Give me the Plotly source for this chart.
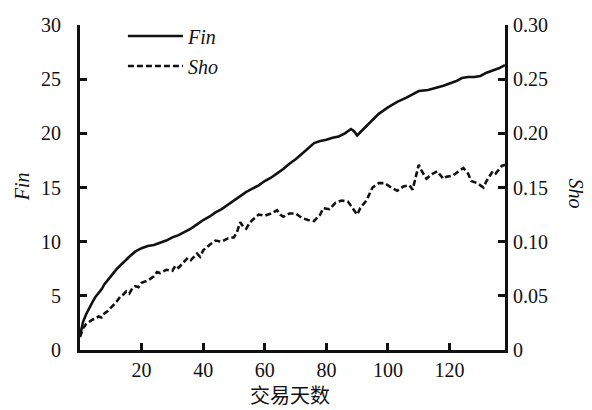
import plotly.graph_objects as go

fin_days = [0, 1, 2, 3, 4, 5, 6, 7, 8, 9, 10, 12, 14, 16, 18, 20, 22, 24, 26, 28, 30, 32, 34, 36, 38,
            40, 42, 44, 46, 48, 50, 52, 54, 56, 58, 60, 62, 64, 66, 68, 70, 72, 74, 76, 78, 80, 82,
            84, 86, 88, 89, 90, 91, 93, 95, 97, 100, 103, 106, 108, 110, 113, 116, 118, 120, 122,
            124, 126, 128, 130, 132, 134, 136, 138]
fin_vals = [1.3, 2.6, 3.3, 3.9, 4.4, 4.9, 5.2, 5.6, 6.1, 6.5, 6.8, 7.5, 8.1, 8.6, 9.1, 9.4, 9.6, 9.7,
            9.9, 10.1, 10.4, 10.6, 10.9, 11.2, 11.6, 12.0, 12.3, 12.7, 13.0, 13.4, 13.8, 14.2, 14.6,
            14.9, 15.2, 15.6, 15.9, 16.3, 16.7, 17.2, 17.6, 18.1, 18.6, 19.1, 19.3, 19.4, 19.6, 19.7,
            20.0, 20.4, 20.2, 19.8, 20.1, 20.7, 21.3, 21.8, 22.4, 22.9, 23.3, 23.6, 23.9, 24.0, 24.2,
            24.4, 24.6, 24.8, 25.1, 25.2, 25.2, 25.3, 25.6, 25.8, 26.0, 26.3]

sho_days = [0, 1, 2, 3, 4, 5, 6, 7, 8, 9, 10, 11, 12, 13, 14, 15, 16, 17, 18, 19, 20, 22, 24, 25, 26,
            28, 30, 31, 32, 34, 35, 36, 38, 39, 40, 42, 44, 46, 48, 50, 51, 52, 53, 54, 55, 56, 58,
            60, 62, 64, 65, 66, 68, 70, 72, 74, 76, 78, 79, 81, 83, 85, 87, 89, 90, 91, 93, 95, 97,
            99, 101, 103, 105, 107, 108, 110, 111, 112.5, 114, 116, 118, 119, 121, 123, 124.5, 126,
            127, 129, 131, 132, 134, 135, 137, 138]
sho_vals = [0.012, 0.020, 0.024, 0.026, 0.028, 0.029, 0.031, 0.030, 0.034, 0.036, 0.039, 0.041, 0.045,
            0.049, 0.051, 0.054, 0.052, 0.057, 0.059, 0.058, 0.062, 0.064, 0.068, 0.072, 0.071, 0.074,
            0.073, 0.078, 0.076, 0.082, 0.085, 0.083, 0.089, 0.086, 0.092, 0.097, 0.101, 0.100, 0.103,
            0.104, 0.109, 0.118, 0.114, 0.112, 0.117, 0.120, 0.125, 0.124, 0.126, 0.129, 0.125, 0.123,
            0.126, 0.126, 0.122, 0.120, 0.119, 0.125, 0.131, 0.130, 0.136, 0.138, 0.137, 0.129, 0.125,
            0.131, 0.138, 0.150, 0.154, 0.154, 0.150, 0.147, 0.151, 0.152, 0.148, 0.171, 0.165, 0.158,
            0.162, 0.165, 0.158, 0.160, 0.161, 0.165, 0.168, 0.163, 0.156, 0.154, 0.150, 0.156, 0.165,
            0.163, 0.170, 0.171]

x_ticks = [20, 40, 60, 80, 100, 120]
fin_ticks = [0, 5, 10, 15, 20, 25, 30]
sho_ticks = [0, 0.05, 0.10, 0.15, 0.20, 0.25, 0.30]
sho_ticktext = ["0", "0.05", "0.10", "0.15", "0.20", "0.25", "0.30"]

FONT = "Liberation Serif"
INK = "#111111"
FS = 20

fig = go.Figure()
fig.add_trace(go.Scatter(x=fin_days, y=fin_vals, mode="lines", name="<i>Fin</i>",
                         legendgroup="a",
                         line=dict(color=INK, width=2.6)))
fig.add_trace(go.Scatter(x=sho_days, y=sho_vals, mode="lines", name="<i>Sho</i>",
                         legendgroup="b", yaxis="y2",
                         line=dict(color=INK, width=2.6, dash="6px,3px")))

tickfont = dict(family=FONT, size=FS, color=INK)
axis_common = dict(showline=True, linewidth=3, linecolor=INK, ticks="inside", ticklen=7,
                   tickwidth=3, tickcolor=INK, showgrid=False, zeroline=False,
                   tickfont=tickfont)

# the page body carries an 8px margin, so the figure is 8px smaller and margins compensate
fig.update_layout(
    width=584, height=402,
    margin=dict(l=72, r=87, t=6, b=60),
    plot_bgcolor="white", paper_bgcolor="white",
    showlegend=True,
    legend=dict(x=0.101, y=1.026, xanchor="left", yanchor="top", bgcolor="rgba(0,0,0,0)",
                font=dict(family=FONT, size=FS, color=INK), tracegroupgap=1,
                itemwidth=55),
    xaxis=dict(range=[0, 138], tickvals=x_ticks, ticklabelstandoff=0, **axis_common),
    yaxis=dict(range=[0, 30], tickvals=fin_ticks, ticklabelstandoff=12, **axis_common),
    yaxis2=dict(range=[0, 0.30], tickvals=sho_ticks, ticktext=sho_ticktext, overlaying="y",
                side="right", ticklabelstandoff=1, **axis_common),
    annotations=[
        dict(text="<i>Fin</i>", xref="paper", yref="paper", x=-0.137, y=0.503, textangle=-90,
             showarrow=False, font=dict(family=FONT, size=FS, color=INK),
             xanchor="center", yanchor="middle"),
        dict(text="<i>Sho</i>", xref="paper", yref="paper", x=1.168, y=0.48, textangle=90,
             showarrow=False, font=dict(family=FONT, size=FS, color=INK),
             xanchor="center", yanchor="middle"),
        dict(text="交易天数", xref="paper", yref="paper", x=0.4935, y=-0.137,
             showarrow=False, font=dict(family="Noto Sans CJK SC", size=20, color=INK),
             xanchor="center", yanchor="middle"),
    ],
)

fig.write_html("out.html")
